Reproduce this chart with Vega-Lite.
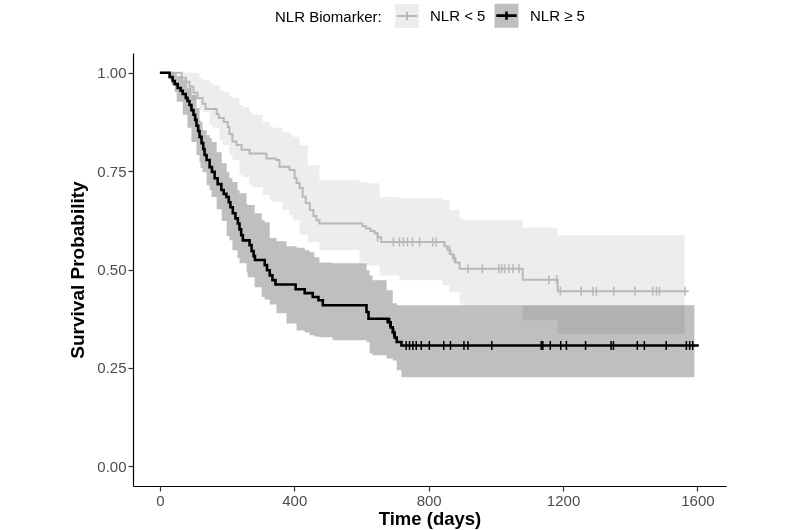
{
  "$schema": "https://vega.github.io/schema/vega-lite/v6.json",
  "width": 593,
  "height": 433,
  "autosize": {"type": "none"},
  "padding": {"left": 133, "top": 53, "right": 74, "bottom": 44},
  "background": "white",
  "config": {
    "view": {"stroke": null},
    "font": "Liberation Sans",
    "axis": {
      "grid": false,
      "domainColor": "#000000",
      "domainWidth": 1.2,
      "tickColor": "#333333",
      "tickWidth": 1.2,
      "tickSize": 5,
      "labelFontSize": 15,
      "labelColor": "#4d4d4d",
      "labelPadding": 2,
      "labelFlush": false,
      "titleFontWeight": "bold",
      "titleColor": "#000000"
    },
    "legend": {
      "orient": "none", "legendX": 142, "legendY": -51, "direction": "horizontal",
      "titleOrient": "left", "titleFontSize": 15, "titleFontWeight": "normal", "titleColor": "#000000",
      "titlePadding": 12, "titleBaseline": "middle", "titleAnchor": "middle",
      "labelFontSize": 15, "labelColor": "#000000", "labelOffset": 10, "columnPadding": 3,
      "symbolType": "M-0.85,0H0V-0.35V0.35V0H0.85H1V-1H-1V1H1V0",
      "symbolSize": 576, "symbolStrokeWidth": 2, "symbolDash": [37.2, 300]
    }
  },
  "datasets": {
    "band": [
      {"group": "NLR < 5", "t": 0, "lo": 1.0, "hi": 1.0},
      {"group": "NLR < 5", "t": 65, "lo": 0.982, "hi": 1.0},
      {"group": "NLR < 5", "t": 88, "lo": 0.943, "hi": 1.0},
      {"group": "NLR < 5", "t": 97, "lo": 0.931, "hi": 1.0},
      {"group": "NLR < 5", "t": 118, "lo": 0.905, "hi": 0.987},
      {"group": "NLR < 5", "t": 127, "lo": 0.900, "hi": 0.982},
      {"group": "NLR < 5", "t": 148, "lo": 0.867, "hi": 0.974},
      {"group": "NLR < 5", "t": 157, "lo": 0.860, "hi": 0.969},
      {"group": "NLR < 5", "t": 178, "lo": 0.829, "hi": 0.956},
      {"group": "NLR < 5", "t": 187, "lo": 0.816, "hi": 0.951},
      {"group": "NLR < 5", "t": 207, "lo": 0.791, "hi": 0.941},
      {"group": "NLR < 5", "t": 216, "lo": 0.778, "hi": 0.936},
      {"group": "NLR < 5", "t": 237, "lo": 0.740, "hi": 0.918},
      {"group": "NLR < 5", "t": 246, "lo": 0.735, "hi": 0.913},
      {"group": "NLR < 5", "t": 267, "lo": 0.714, "hi": 0.900},
      {"group": "NLR < 5", "t": 276, "lo": 0.709, "hi": 0.893},
      {"group": "NLR < 5", "t": 306, "lo": 0.689, "hi": 0.875},
      {"group": "NLR < 5", "t": 327, "lo": 0.676, "hi": 0.865},
      {"group": "NLR < 5", "t": 335, "lo": 0.671, "hi": 0.860},
      {"group": "NLR < 5", "t": 365, "lo": 0.651, "hi": 0.849},
      {"group": "NLR < 5", "t": 386, "lo": 0.638, "hi": 0.842},
      {"group": "NLR < 5", "t": 395, "lo": 0.625, "hi": 0.837},
      {"group": "NLR < 5", "t": 416, "lo": 0.587, "hi": 0.816},
      {"group": "NLR < 5", "t": 440, "lo": 0.570, "hi": 0.765},
      {"group": "NLR < 5", "t": 475, "lo": 0.549, "hi": 0.727},
      {"group": "NLR < 5", "t": 594, "lo": 0.518, "hi": 0.722},
      {"group": "NLR < 5", "t": 615, "lo": 0.510, "hi": 0.719},
      {"group": "NLR < 5", "t": 654, "lo": 0.485, "hi": 0.684},
      {"group": "NLR < 5", "t": 713, "lo": 0.473, "hi": 0.681},
      {"group": "NLR < 5", "t": 841, "lo": 0.460, "hi": 0.676},
      {"group": "NLR < 5", "t": 862, "lo": 0.442, "hi": 0.651},
      {"group": "NLR < 5", "t": 892, "lo": 0.414, "hi": 0.630},
      {"group": "NLR < 5", "t": 901, "lo": 0.409, "hi": 0.625},
      {"group": "NLR < 5", "t": 1080, "lo": 0.371, "hi": 0.607},
      {"group": "NLR < 5", "t": 1184, "lo": 0.337, "hi": 0.587},
      {"group": "NLR < 5", "t": 1562, "lo": 0.337, "hi": 0.587},
      {"group": "NLR ≥ 5", "t": 0, "lo": 1.0, "hi": 1.0},
      {"group": "NLR ≥ 5", "t": 29, "lo": 0.982, "hi": 1.0},
      {"group": "NLR ≥ 5", "t": 35, "lo": 0.969, "hi": 1.0},
      {"group": "NLR ≥ 5", "t": 44, "lo": 0.951, "hi": 1.0},
      {"group": "NLR ≥ 5", "t": 50, "lo": 0.926, "hi": 0.992},
      {"group": "NLR ≥ 5", "t": 68, "lo": 0.893, "hi": 0.982},
      {"group": "NLR ≥ 5", "t": 82, "lo": 0.860, "hi": 0.961},
      {"group": "NLR ≥ 5", "t": 94, "lo": 0.824, "hi": 0.943},
      {"group": "NLR ≥ 5", "t": 109, "lo": 0.791, "hi": 0.910},
      {"group": "NLR ≥ 5", "t": 118, "lo": 0.773, "hi": 0.880},
      {"group": "NLR ≥ 5", "t": 121, "lo": 0.758, "hi": 0.875},
      {"group": "NLR ≥ 5", "t": 127, "lo": 0.747, "hi": 0.854},
      {"group": "NLR ≥ 5", "t": 139, "lo": 0.714, "hi": 0.842},
      {"group": "NLR ≥ 5", "t": 148, "lo": 0.702, "hi": 0.834},
      {"group": "NLR ≥ 5", "t": 154, "lo": 0.684, "hi": 0.824},
      {"group": "NLR ≥ 5", "t": 169, "lo": 0.653, "hi": 0.798},
      {"group": "NLR ≥ 5", "t": 184, "lo": 0.623, "hi": 0.770},
      {"group": "NLR ≥ 5", "t": 199, "lo": 0.585, "hi": 0.747},
      {"group": "NLR ≥ 5", "t": 207, "lo": 0.574, "hi": 0.732},
      {"group": "NLR ≥ 5", "t": 216, "lo": 0.549, "hi": 0.722},
      {"group": "NLR ≥ 5", "t": 231, "lo": 0.529, "hi": 0.702},
      {"group": "NLR ≥ 5", "t": 237, "lo": 0.516, "hi": 0.694},
      {"group": "NLR ≥ 5", "t": 258, "lo": 0.493, "hi": 0.666},
      {"group": "NLR ≥ 5", "t": 261, "lo": 0.480, "hi": 0.664},
      {"group": "NLR ≥ 5", "t": 282, "lo": 0.455, "hi": 0.643},
      {"group": "NLR ≥ 5", "t": 303, "lo": 0.430, "hi": 0.625},
      {"group": "NLR ≥ 5", "t": 312, "lo": 0.424, "hi": 0.620},
      {"group": "NLR ≥ 5", "t": 327, "lo": 0.411, "hi": 0.580},
      {"group": "NLR ≥ 5", "t": 347, "lo": 0.389, "hi": 0.572},
      {"group": "NLR ≥ 5", "t": 377, "lo": 0.363, "hi": 0.559},
      {"group": "NLR ≥ 5", "t": 407, "lo": 0.345, "hi": 0.555},
      {"group": "NLR ≥ 5", "t": 431, "lo": 0.340, "hi": 0.549},
      {"group": "NLR ≥ 5", "t": 446, "lo": 0.333, "hi": 0.544},
      {"group": "NLR ≥ 5", "t": 460, "lo": 0.330, "hi": 0.531},
      {"group": "NLR ≥ 5", "t": 475, "lo": 0.328, "hi": 0.518},
      {"group": "NLR ≥ 5", "t": 514, "lo": 0.320, "hi": 0.516},
      {"group": "NLR ≥ 5", "t": 615, "lo": 0.315, "hi": 0.498},
      {"group": "NLR ≥ 5", "t": 624, "lo": 0.287, "hi": 0.485},
      {"group": "NLR ≥ 5", "t": 633, "lo": 0.282, "hi": 0.473},
      {"group": "NLR ≥ 5", "t": 675, "lo": 0.274, "hi": 0.447},
      {"group": "NLR ≥ 5", "t": 693, "lo": 0.269, "hi": 0.414},
      {"group": "NLR ≥ 5", "t": 705, "lo": 0.244, "hi": 0.409},
      {"group": "NLR ≥ 5", "t": 719, "lo": 0.226, "hi": 0.409},
      {"group": "NLR ≥ 5", "t": 1591, "lo": 0.226, "hi": 0.409}
    ],
    "curve": [
      {"group": "NLR < 5", "t": 0, "s": 1.0},
      {"group": "NLR < 5", "t": 65, "s": 0.987},
      {"group": "NLR < 5", "t": 77, "s": 0.977},
      {"group": "NLR < 5", "t": 88, "s": 0.964},
      {"group": "NLR < 5", "t": 100, "s": 0.949},
      {"group": "NLR < 5", "t": 112, "s": 0.936},
      {"group": "NLR < 5", "t": 127, "s": 0.921},
      {"group": "NLR < 5", "t": 136, "s": 0.908},
      {"group": "NLR < 5", "t": 169, "s": 0.895},
      {"group": "NLR < 5", "t": 175, "s": 0.885},
      {"group": "NLR < 5", "t": 190, "s": 0.875},
      {"group": "NLR < 5", "t": 202, "s": 0.862},
      {"group": "NLR < 5", "t": 207, "s": 0.844},
      {"group": "NLR < 5", "t": 216, "s": 0.825},
      {"group": "NLR < 5", "t": 228, "s": 0.816},
      {"group": "NLR < 5", "t": 243, "s": 0.804},
      {"group": "NLR < 5", "t": 267, "s": 0.795},
      {"group": "NLR < 5", "t": 317, "s": 0.782},
      {"group": "NLR < 5", "t": 346, "s": 0.778},
      {"group": "NLR < 5", "t": 356, "s": 0.761},
      {"group": "NLR < 5", "t": 386, "s": 0.753},
      {"group": "NLR < 5", "t": 401, "s": 0.732},
      {"group": "NLR < 5", "t": 407, "s": 0.720},
      {"group": "NLR < 5", "t": 416, "s": 0.707},
      {"group": "NLR < 5", "t": 425, "s": 0.685},
      {"group": "NLR < 5", "t": 434, "s": 0.669},
      {"group": "NLR < 5", "t": 446, "s": 0.651},
      {"group": "NLR < 5", "t": 457, "s": 0.636},
      {"group": "NLR < 5", "t": 466, "s": 0.625},
      {"group": "NLR < 5", "t": 475, "s": 0.617},
      {"group": "NLR < 5", "t": 603, "s": 0.610},
      {"group": "NLR < 5", "t": 614, "s": 0.604},
      {"group": "NLR < 5", "t": 627, "s": 0.598},
      {"group": "NLR < 5", "t": 639, "s": 0.592},
      {"group": "NLR < 5", "t": 648, "s": 0.582},
      {"group": "NLR < 5", "t": 659, "s": 0.570},
      {"group": "NLR < 5", "t": 847, "s": 0.559},
      {"group": "NLR < 5", "t": 856, "s": 0.549},
      {"group": "NLR < 5", "t": 865, "s": 0.539},
      {"group": "NLR < 5", "t": 872, "s": 0.528},
      {"group": "NLR < 5", "t": 880, "s": 0.518},
      {"group": "NLR < 5", "t": 892, "s": 0.502},
      {"group": "NLR < 5", "t": 1080, "s": 0.474},
      {"group": "NLR < 5", "t": 1184, "s": 0.445},
      {"group": "NLR < 5", "t": 1574, "s": 0.445},
      {"group": "NLR ≥ 5", "t": 0, "s": 1.0},
      {"group": "NLR ≥ 5", "t": 29, "s": 0.989},
      {"group": "NLR ≥ 5", "t": 38, "s": 0.979},
      {"group": "NLR ≥ 5", "t": 44, "s": 0.971},
      {"group": "NLR ≥ 5", "t": 53, "s": 0.961},
      {"group": "NLR ≥ 5", "t": 62, "s": 0.954},
      {"group": "NLR ≥ 5", "t": 68, "s": 0.946},
      {"group": "NLR ≥ 5", "t": 77, "s": 0.936},
      {"group": "NLR ≥ 5", "t": 82, "s": 0.928},
      {"group": "NLR ≥ 5", "t": 88, "s": 0.918},
      {"group": "NLR ≥ 5", "t": 94, "s": 0.905},
      {"group": "NLR ≥ 5", "t": 100, "s": 0.893},
      {"group": "NLR ≥ 5", "t": 105, "s": 0.880},
      {"group": "NLR ≥ 5", "t": 109, "s": 0.865},
      {"group": "NLR ≥ 5", "t": 114, "s": 0.852},
      {"group": "NLR ≥ 5", "t": 118, "s": 0.837},
      {"group": "NLR ≥ 5", "t": 124, "s": 0.821},
      {"group": "NLR ≥ 5", "t": 129, "s": 0.806},
      {"group": "NLR ≥ 5", "t": 133, "s": 0.791},
      {"group": "NLR ≥ 5", "t": 139, "s": 0.778},
      {"group": "NLR ≥ 5", "t": 148, "s": 0.760},
      {"group": "NLR ≥ 5", "t": 155, "s": 0.748},
      {"group": "NLR ≥ 5", "t": 163, "s": 0.732},
      {"group": "NLR ≥ 5", "t": 172, "s": 0.717},
      {"group": "NLR ≥ 5", "t": 183, "s": 0.702},
      {"group": "NLR ≥ 5", "t": 190, "s": 0.692},
      {"group": "NLR ≥ 5", "t": 198, "s": 0.684},
      {"group": "NLR ≥ 5", "t": 205, "s": 0.671},
      {"group": "NLR ≥ 5", "t": 210, "s": 0.658},
      {"group": "NLR ≥ 5", "t": 217, "s": 0.643},
      {"group": "NLR ≥ 5", "t": 225, "s": 0.630},
      {"group": "NLR ≥ 5", "t": 232, "s": 0.617},
      {"group": "NLR ≥ 5", "t": 237, "s": 0.602},
      {"group": "NLR ≥ 5", "t": 242, "s": 0.587},
      {"group": "NLR ≥ 5", "t": 247, "s": 0.574},
      {"group": "NLR ≥ 5", "t": 267, "s": 0.562},
      {"group": "NLR ≥ 5", "t": 273, "s": 0.547},
      {"group": "NLR ≥ 5", "t": 279, "s": 0.534},
      {"group": "NLR ≥ 5", "t": 283, "s": 0.524},
      {"group": "NLR ≥ 5", "t": 312, "s": 0.511},
      {"group": "NLR ≥ 5", "t": 319, "s": 0.498},
      {"group": "NLR ≥ 5", "t": 327, "s": 0.485},
      {"group": "NLR ≥ 5", "t": 335, "s": 0.473},
      {"group": "NLR ≥ 5", "t": 344, "s": 0.462},
      {"group": "NLR ≥ 5", "t": 404, "s": 0.450},
      {"group": "NLR ≥ 5", "t": 431, "s": 0.440},
      {"group": "NLR ≥ 5", "t": 455, "s": 0.430},
      {"group": "NLR ≥ 5", "t": 472, "s": 0.422},
      {"group": "NLR ≥ 5", "t": 485, "s": 0.409},
      {"group": "NLR ≥ 5", "t": 615, "s": 0.392},
      {"group": "NLR ≥ 5", "t": 621, "s": 0.375},
      {"group": "NLR ≥ 5", "t": 678, "s": 0.366},
      {"group": "NLR ≥ 5", "t": 687, "s": 0.353},
      {"group": "NLR ≥ 5", "t": 693, "s": 0.340},
      {"group": "NLR ≥ 5", "t": 699, "s": 0.327},
      {"group": "NLR ≥ 5", "t": 705, "s": 0.316},
      {"group": "NLR ≥ 5", "t": 719, "s": 0.307},
      {"group": "NLR ≥ 5", "t": 1604, "s": 0.307}
    ],
    "censor": [
      {"group": "NLR < 5", "t": 648, "s": 0.582},
      {"group": "NLR < 5", "t": 695, "s": 0.570},
      {"group": "NLR < 5", "t": 713, "s": 0.570},
      {"group": "NLR < 5", "t": 725, "s": 0.570},
      {"group": "NLR < 5", "t": 737, "s": 0.570},
      {"group": "NLR < 5", "t": 752, "s": 0.570},
      {"group": "NLR < 5", "t": 773, "s": 0.570},
      {"group": "NLR < 5", "t": 812, "s": 0.570},
      {"group": "NLR < 5", "t": 822, "s": 0.570},
      {"group": "NLR < 5", "t": 862, "s": 0.549},
      {"group": "NLR < 5", "t": 877, "s": 0.528},
      {"group": "NLR < 5", "t": 917, "s": 0.502},
      {"group": "NLR < 5", "t": 960, "s": 0.502},
      {"group": "NLR < 5", "t": 1009, "s": 0.502},
      {"group": "NLR < 5", "t": 1017, "s": 0.502},
      {"group": "NLR < 5", "t": 1026, "s": 0.502},
      {"group": "NLR < 5", "t": 1039, "s": 0.502},
      {"group": "NLR < 5", "t": 1051, "s": 0.502},
      {"group": "NLR < 5", "t": 1069, "s": 0.502},
      {"group": "NLR < 5", "t": 1158, "s": 0.474},
      {"group": "NLR < 5", "t": 1181, "s": 0.474},
      {"group": "NLR < 5", "t": 1192, "s": 0.445},
      {"group": "NLR < 5", "t": 1254, "s": 0.445},
      {"group": "NLR < 5", "t": 1289, "s": 0.445},
      {"group": "NLR < 5", "t": 1299, "s": 0.445},
      {"group": "NLR < 5", "t": 1351, "s": 0.445},
      {"group": "NLR < 5", "t": 1414, "s": 0.445},
      {"group": "NLR < 5", "t": 1467, "s": 0.445},
      {"group": "NLR < 5", "t": 1478, "s": 0.445},
      {"group": "NLR < 5", "t": 1487, "s": 0.445},
      {"group": "NLR < 5", "t": 1563, "s": 0.445},
      {"group": "NLR ≥ 5", "t": 684, "s": 0.366},
      {"group": "NLR ≥ 5", "t": 696, "s": 0.340},
      {"group": "NLR ≥ 5", "t": 733, "s": 0.307},
      {"group": "NLR ≥ 5", "t": 743, "s": 0.307},
      {"group": "NLR ≥ 5", "t": 753, "s": 0.307},
      {"group": "NLR ≥ 5", "t": 763, "s": 0.307},
      {"group": "NLR ≥ 5", "t": 778, "s": 0.307},
      {"group": "NLR ≥ 5", "t": 802, "s": 0.307},
      {"group": "NLR ≥ 5", "t": 845, "s": 0.307},
      {"group": "NLR ≥ 5", "t": 865, "s": 0.307},
      {"group": "NLR ≥ 5", "t": 905, "s": 0.307},
      {"group": "NLR ≥ 5", "t": 917, "s": 0.307},
      {"group": "NLR ≥ 5", "t": 988, "s": 0.307},
      {"group": "NLR ≥ 5", "t": 1135, "s": 0.307},
      {"group": "NLR ≥ 5", "t": 1140, "s": 0.307},
      {"group": "NLR ≥ 5", "t": 1162, "s": 0.307},
      {"group": "NLR ≥ 5", "t": 1193, "s": 0.307},
      {"group": "NLR ≥ 5", "t": 1210, "s": 0.307},
      {"group": "NLR ≥ 5", "t": 1267, "s": 0.307},
      {"group": "NLR ≥ 5", "t": 1343, "s": 0.307},
      {"group": "NLR ≥ 5", "t": 1350, "s": 0.307},
      {"group": "NLR ≥ 5", "t": 1421, "s": 0.307},
      {"group": "NLR ≥ 5", "t": 1442, "s": 0.307},
      {"group": "NLR ≥ 5", "t": 1507, "s": 0.307},
      {"group": "NLR ≥ 5", "t": 1567, "s": 0.307},
      {"group": "NLR ≥ 5", "t": 1577, "s": 0.307},
      {"group": "NLR ≥ 5", "t": 1586, "s": 0.307}
    ]
  },
  "layer": [
    {
      "data": {"name": "band"},
      "mark": {"type": "area", "interpolate": "step-after", "blend": "multiply"},
      "encoding": {
        "x": {"field": "t", "type": "quantitative", "scale": {"domain": [-80, 1685], "nice": false, "zero": false},
              "axis": {"title": "Time (days)", "values": [0, 400, 800, 1200, 1600], "format": "d", "titlePadding": 1, "titleFontSize": 18.5}},
        "y": {"field": "lo", "type": "quantitative", "scale": {"domain": [-0.05, 1.05], "nice": false, "zero": false},
              "axis": {"title": "Survival Probability", "values": [0, 0.25, 0.5, 0.75, 1], "format": ".2f", "titlePadding": 9, "titleFontSize": 19}},
        "y2": {"field": "hi"},
        "fill": {"field": "group", "type": "nominal",
                 "scale": {"domain": ["NLR < 5", "NLR ≥ 5"], "range": ["#ededed", "#bfbfbf"]},
                 "legend": {"title": "NLR Biomarker:"}}
      }
    },
    {
      "data": {"name": "curve"},
      "mark": {"type": "line", "interpolate": "step-after"},
      "encoding": {
        "x": {"field": "t", "type": "quantitative"},
        "y": {"field": "s", "type": "quantitative"},
        "strokeWidth": {"field": "group", "type": "nominal", "scale": {"domain": ["NLR < 5", "NLR ≥ 5"], "range": [2, 2.6]}, "legend": null},
        "stroke": {"field": "group", "type": "nominal",
                   "scale": {"domain": ["NLR < 5", "NLR ≥ 5"], "range": ["#b8b8b8", "#000000"]},
                   "legend": {"title": "NLR Biomarker:"}}
      }
    },
    {
      "data": {"name": "censor"},
      "mark": {"type": "point", "shape": "M0,-1V1", "size": 81, "strokeWidth": 1.5, "filled": false, "opacity": 1},
      "encoding": {
        "x": {"field": "t", "type": "quantitative"},
        "y": {"field": "s", "type": "quantitative"},
        "stroke": {"field": "group", "type": "nominal", "legend": null}
      }
    }
  ]
}
